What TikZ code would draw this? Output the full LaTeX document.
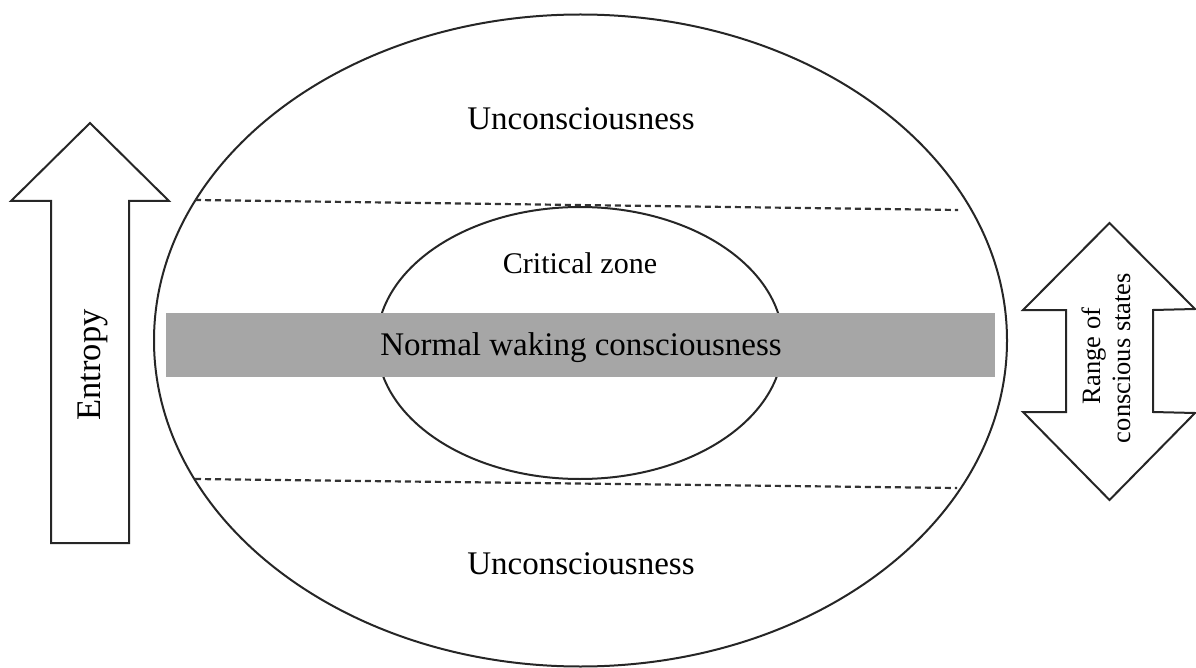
\documentclass[tikz,border=0pt]{standalone}
\usepackage{fontspec}
\setmainfont{Liberation Serif}
\usetikzlibrary{shapes.geometric}
\begin{document}
\begin{tikzpicture}[x=1pt,y=-1pt,
  outline/.style={draw=black!85, line width=2pt},
  divider/.style={draw=black!80, line width=2.2pt, dash pattern=on 6pt off 4pt},
  oval/.style={outline, ellipse, inner sep=0pt},
  band/.style={fill=black!35, inner sep=0pt},
  lbl/.style={inner sep=0pt, anchor=base, font=\fontsize{33}{36}\selectfont},
  smalllbl/.style={inner sep=0pt, anchor=base, font=\fontsize{30}{34}\selectfont},
  sidelbl/.style={inner sep=0pt, anchor=base, rotate=90, font=\fontsize{26.5}{30}\selectfont},
  arrowbody/.style={outline, fill=white, line join=miter}]
\useasboundingbox (0,0) rectangle (1196,668);

% nested zones
\node[oval, minimum width=853pt, minimum height=652pt] (outer) at (580.5,340.5) {};
\node[oval, minimum width=406pt, minimum height=272pt] (inner) at (580,343) {};

% boundaries between unconsciousness and the conscious range
\coordinate (upL) at (195,200);
\coordinate (upR) at (958,210);
\coordinate (loL) at (195,479);
\coordinate (loR) at (957,488);
\draw[divider] (upL) -- (upR);
\draw[divider] (loL) -- (loR);

% band of normal waking consciousness
\node[band, minimum width=829pt, minimum height=64pt] (wake) at (580.5,345) {};
\node[lbl] (waketext) at (581,355) {Normal waking consciousness};

\node[lbl] (uncTop) at (581,130) {Unconsciousness};
\node[lbl] (uncBot) at (581,574) {Unconsciousness};
\node[smalllbl] (crit) at (580,273) {Critical zone};

% entropy arrow
\draw[arrowbody] (51,543) -- (51,201) -- (11,201) -- (90,123) -- (169,201)
  -- (129,201) -- (129,543) -- cycle;
\node[inner sep=0pt, anchor=base, rotate=90, font=\fontsize{34.5}{38}\selectfont]
  (entropy) at (100,365) {Entropy};

% range of conscious states
\draw[arrowbody] (1066,310) -- (1023,310) -- (1109.5,223) -- (1195,309) -- (1153,310)
  -- (1153,412) -- (1195,413) -- (1109.5,500) -- (1023,412) -- (1066,412) -- cycle;
\node[sidelbl] (range1) at (1100,356) {Range of};
\node[sidelbl] (range2) at (1130,358) {conscious states};
\end{tikzpicture}
\end{document}
